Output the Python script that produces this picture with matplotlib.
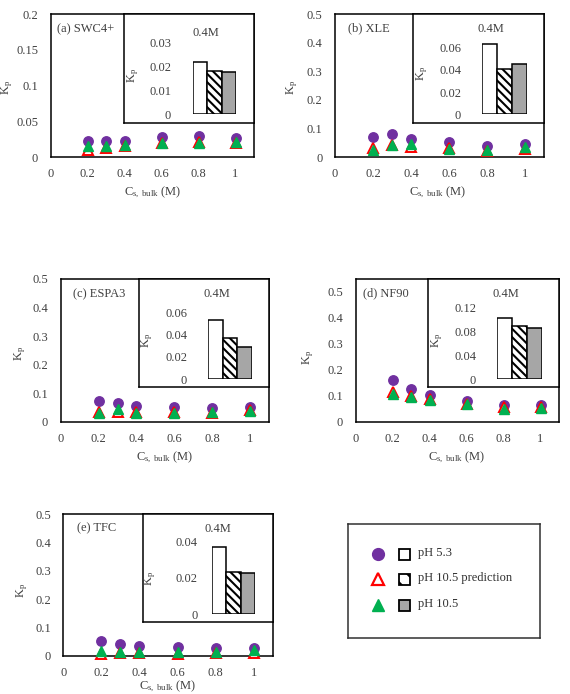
import matplotlib
matplotlib.use("Agg")
import matplotlib.pyplot as plt
from matplotlib.patches import Rectangle
from matplotlib.ticker import FuncFormatter

plt.rcParams['font.family'] = ['Liberation Serif', 'DejaVu Serif']
plt.rcParams['mathtext.fontset'] = 'custom'
plt.rcParams['mathtext.rm'] = 'Liberation Serif'
plt.rcParams['mathtext.it'] = 'Liberation Serif:italic'
plt.rcParams['hatch.linewidth'] = 1.5

# ---------------- data ----------------
conc = [0.2, 0.3, 0.4, 0.6, 0.8, 1.0]
bar_labels = ["pH 5.3", "pH 10.5 prediction", "pH 10.5"]
panel_titles = ["(a) SWC4+", "(b) XLE", "(c) ESPA3", "(d) NF90", "(e) TFC"]

a_ph53 = [0.0225, 0.0225, 0.023, 0.028, 0.029, 0.026]
a_pred = [0.0105, 0.013, 0.016, 0.020, 0.021, 0.020]
a_ph105 = [0.0155, 0.0155, 0.017, 0.0197, 0.0197, 0.021]
a_bar = [0.0219, 0.0181, 0.0176]

b_ph53 = [0.070, 0.080, 0.064, 0.053, 0.039, 0.047]
b_pred = [0.033, 0.043, 0.035, 0.030, 0.022, 0.028]
b_ph105 = [0.026, 0.041, 0.044, 0.029, 0.023, 0.035]
b_bar = [0.0636, 0.0406, 0.045]

c_ph53 = [0.074, 0.067, 0.056, 0.050, 0.048, 0.053]
c_pred = [0.035, 0.035, 0.033, 0.033, 0.030, 0.040]
c_ph105 = [0.029, 0.043, 0.029, 0.029, 0.035, 0.039]
c_bar = [0.0534, 0.037, 0.029]

d_ph53 = [0.161, 0.126, 0.103, 0.080, 0.063, 0.063]
d_pred = [0.116, 0.100, 0.088, 0.068, 0.058, 0.058]
d_ph105 = [0.106, 0.097, 0.084, 0.067, 0.048, 0.054]
d_bar = [0.102, 0.088, 0.086]

e_ph53 = [0.054, 0.042, 0.036, 0.033, 0.029, 0.029]
e_pred = [0.008, 0.012, 0.012, 0.008, 0.010, 0.012]
e_ph105 = [0.019, 0.015, 0.015, 0.015, 0.015, 0.021]
e_bar = [0.0372, 0.0233, 0.0229]

x_ticks = [0, 0.2, 0.4, 0.6, 0.8, 1.0]
ab_yticks_a = [0, 0.05, 0.1, 0.15, 0.2]
main_yticks = [0, 0.1, 0.2, 0.3, 0.4, 0.5]
inset_ticks_a = [0, 0.01, 0.02, 0.03]
inset_ticks_b = [0, 0.02, 0.04, 0.06]
inset_ticks_c = [0, 0.02, 0.04, 0.06]
inset_ticks_d = [0, 0.04, 0.08, 0.12]
inset_ticks_e = [0, 0.02, 0.04]

# ---------------- styling ----------------
PURPLE = "#7030A0"
RED = "#FF0000"
GREEN = "#00B050"
GREY = "#A6A6A6"
FS = 9

W, H = 570, 694
fig = plt.figure(figsize=(W / 100, H / 100), dpi=100)


def box(l, t, r, b):
    return [l / W, 1 - b / H, (r - l) / W, (b - t) / H]


def ftxt(x, y, s, **kw):
    fig.text(x / W, 1 - y / H, s, fontsize=FS, **kw)


fmt = FuncFormatter(lambda v, p: "%g" % v)

panels = [
    dict(d=(a_ph53, a_pred, a_ph105, a_bar), main=(50.7, 14.3, 254, 157), ylim=0.2, yt=ab_yticks_a,
         inset=(124, 14.3, 254, 123), bars=(193, 236, 114.3, 42.7, 0.03), itop=0.03, it=inset_ticks_a, ipad=22,
         title=(57, 29), xl=(153, 192), yl=(7, 87), ikp=(133, 75), i04=(206, 33)),
    dict(d=(b_ph53, b_pred, b_ph105, b_bar), main=(335, 14.3, 544, 157), ylim=0.5, yt=main_yticks,
         inset=(413, 14.3, 544, 123), bars=(482, 527, 114.3, 47.7, 0.06), itop=0.07, it=inset_ticks_b, ipad=21,
         title=(348, 28), xl=(438, 192), yl=(292, 87), ikp=(422, 73), i04=(491, 29)),
    dict(d=(c_ph53, c_pred, c_ph105, c_bar), main=(60.7, 279, 269, 421.7), ylim=0.5, yt=main_yticks,
         inset=(139.3, 279, 269, 387.3), bars=(208, 252, 379.3, 312.3, 0.06), itop=0.06, it=inset_ticks_c, ipad=21,
         title=(73, 294), xl=(165, 457), yl=(20, 353), ikp=(147, 340), i04=(217, 294)),
    dict(d=(d_ph53, d_pred, d_ph105, d_bar), main=(355.7, 279, 559, 421.7), ylim=0.55, yt=main_yticks,
         inset=(428, 279, 559, 387.3), bars=(497, 541.7, 379.3, 307.3, 0.12), itop=0.12, it=inset_ticks_d, ipad=21,
         title=(363, 293), xl=(457, 457), yl=(308, 357), ikp=(437, 340), i04=(506, 294)),
    dict(d=(e_ph53, e_pred, e_ph105, e_bar), main=(63.3, 514.3, 272.7, 656), ylim=0.5, yt=main_yticks,
         inset=(142.7, 514.3, 272.7, 622.3), bars=(211.7, 255, 614.3, 541.7, 0.04), itop=0.04, it=inset_ticks_e, ipad=14,
         title=(77, 528), xl=(168, 686), yl=(22, 590), ikp=(150, 578), i04=(218, 529)),
]

for i, p in enumerate(panels):
    ph53, pred, ph105, bars = p["d"]
    ax = fig.add_axes(box(*p["main"]))
    ax.plot(conc, ph53, "o", color=PURPLE, ms=6.8, mec=PURPLE, clip_on=False, zorder=3)
    ax.plot(conc, pred, "^", mfc="white", mec=RED, mew=1.4, ms=6.8, clip_on=False, zorder=4)
    ax.plot(conc, ph105, "^", color=GREEN, mec=GREEN, ms=6.5, clip_on=False, zorder=5)
    ax.set_xlim(0, 1.1)
    ax.set_ylim(0, p["ylim"])
    ax.set_xticks(x_ticks)
    ax.set_yticks(p["yt"])
    ax.xaxis.set_major_formatter(fmt)
    ax.yaxis.set_major_formatter(fmt)
    ax.tick_params(length=0, labelsize=FS, colors="#404040")
    ax.tick_params(axis="y", pad=9)
    ax.tick_params(axis="x", pad=8)
    for s in ax.spines.values():
        s.set_linewidth(1.1)
        s.set_color("black")
    for t in ax.get_xticklabels() + ax.get_yticklabels():
        t.set_color("#404040")

    ftxt(p["title"][0], p["title"][1], panel_titles[i], ha="left", va="center", color="#404040")
    ftxt(p["xl"][0], p["xl"][1], r"C$_{\mathrm{s,\ bulk}}$ (M)", ha="center", va="center", color="#404040")
    ftxt(p["yl"][0], p["yl"][1], r"K$_{\mathrm{p}}$", ha="center", va="center", rotation=90, color="#404040")

    # inset frame
    ib = fig.add_axes(box(*p["inset"]))
    ib.set_xticks([])
    ib.set_yticks([])
    ib.set_facecolor("white")
    for s in ib.spines.values():
        s.set_linewidth(1.1)
        s.set_color("black")
    ib.set_zorder(5)

    bl, br, y0, yr, vr = p["bars"]
    top = y0 - (y0 - yr) * p["itop"] / vr
    bx = fig.add_axes(box(bl, top, br, y0))
    bx.set_zorder(6)
    bx.patch.set_alpha(0)
    bx.bar([0], [bars[0]], width=1, color="white", edgecolor="black", linewidth=1.1)
    bx.bar([1], [bars[1]], width=1, color="white", edgecolor="black", hatch="\\\\\\\\", linewidth=1.1)
    bx.bar([2], [bars[2]], width=1, color=GREY, edgecolor="black", linewidth=1.1)
    bx.set_xlim(-0.5, 2.5)
    bx.set_ylim(0, p["itop"])
    bx.set_yticks(p["it"])
    bx.yaxis.set_major_formatter(fmt)
    bx.set_xticks([])
    bx.tick_params(length=0, labelsize=FS, pad=p["ipad"] / 1.389, colors="#404040")
    for s in bx.spines.values():
        s.set_visible(False)
    for t in bx.get_yticklabels():
        t.set_color("#404040")
    fig.text(p["ikp"][0] / W, 1 - p["ikp"][1] / H, r"K$_{\mathrm{p}}$", fontsize=FS, rotation=90,
             ha="center", va="center", color="#404040", zorder=10)
    fig.text(p["i04"][0] / W, 1 - p["i04"][1] / H, "0.4M", fontsize=FS, ha="center", va="center",
             color="#404040", zorder=10)

# ---------------- legend ----------------
lg = fig.add_axes(box(348, 524, 540, 638.3))
lg.set_xticks([])
lg.set_yticks([])
for s in lg.spines.values():
    s.set_linewidth(1.1)
    s.set_color("#303030")
lx0, ly0, lw, lh = 348, 524, 540 - 348, 638.3 - 524


def lxy(x, y):
    return (x - lx0) / lw, 1 - (y - ly0) / lh


rows = [554, 579, 605]
mk = [dict(marker="o", color=PURPLE, ms=8.5),
      dict(marker="^", mfc="white", mec=RED, mew=1.6, ms=8),
      dict(marker="^", color=GREEN, ms=8)]
sq = [dict(facecolor="white", hatch=None), dict(facecolor="white", hatch="\\\\"), dict(facecolor=GREY, hatch=None)]
for r, m, q, lab in zip(rows, mk, sq, bar_labels):
    mx, my = lxy(377.7, r)
    lg.plot([mx], [my], transform=lg.transAxes, linestyle="none", **m)
    sx, sy = lxy(399, r + 5.5)
    rect = Rectangle((sx, sy), 11 / lw, 11 / lh, transform=lg.transAxes, edgecolor="black",
                     linewidth=1.3, **q)
    lg.add_patch(rect)
    tx, ty = lxy(418, r - 1)
    lg.text(tx, ty, lab, transform=lg.transAxes, fontsize=FS, ha="left", va="center", color="#303030")
lg.set_xlim(0, 1)
lg.set_ylim(0, 1)

fig.savefig("out.png", dpi=100)
